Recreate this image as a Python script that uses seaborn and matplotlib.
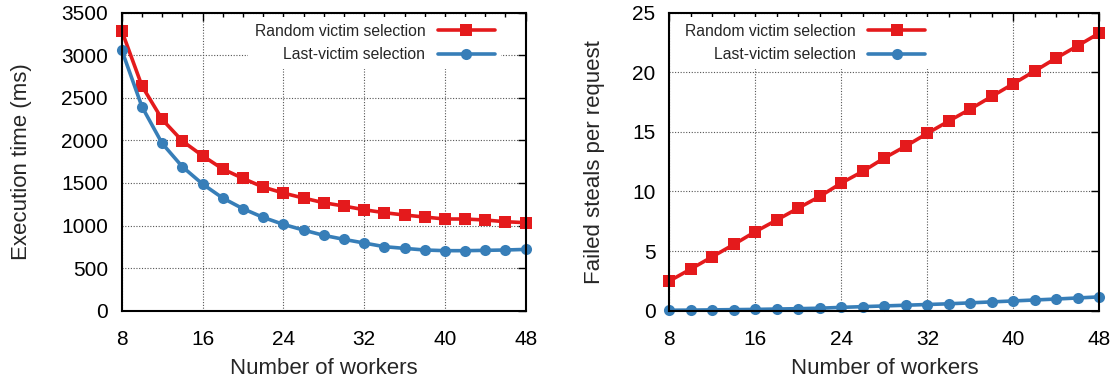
import numpy as np
import pandas as pd
import matplotlib
matplotlib.use("Agg")
import matplotlib.pyplot as plt
import seaborn as sns
from matplotlib.ticker import MultipleLocator

workers = [8, 10, 12, 14, 16, 18, 20, 22, 24, 26, 28, 30, 32, 34, 36, 38, 40, 42, 44, 46, 48]
exec_random = [3288, 2640, 2247, 1993, 1820, 1664, 1554, 1452, 1382, 1323, 1268, 1229,
               1186, 1151, 1124, 1100, 1077, 1077, 1065, 1045, 1034]
exec_last = [3061, 2396, 1965, 1691, 1488, 1323, 1198, 1096, 1014, 947, 885, 838,
             795, 752, 732, 713, 705, 705, 709, 713, 720]
fail_random = [2.49, 3.50, 4.53, 5.56, 6.63, 7.61, 8.61, 9.59, 10.71, 11.69, 12.81, 13.81,
               14.88, 15.91, 16.92, 17.98, 19.04, 20.11, 21.20, 22.23, 23.29]
fail_last = [0.04, 0.05, 0.07, 0.09, 0.11, 0.14, 0.17, 0.21, 0.28, 0.34, 0.40, 0.46,
             0.52, 0.58, 0.66, 0.74, 0.82, 0.90, 0.98, 1.07, 1.16]
series_names = ["Random victim selection", "Last-victim selection"]
x_label = "Number of workers"
y_labels = ["Execution time (ms)", "Failed steals per request"]

sns.set_theme(style="white")
plt.rcParams['font.family'] = ['Liberation Sans', 'DejaVu Sans']

RED = "#e41a1c"
BLUE = "#377eb8"

fig = plt.figure(figsize=(11.18, 3.81), dpi=100)
ax1 = fig.add_axes([0.1089, 0.1845, 0.3613, 0.7822])
ax2 = fig.add_axes([0.5987, 0.1845, 0.3846, 0.7822])

panels = [
    (ax1, exec_random, exec_last, (0, 3500), 500, (0.95, 1.0), -0.247),
    (ax2, fail_random, fail_last, (0, 25), 5, (0.62, 1.0), -0.175),
]

for i, (ax, r, l, ylim, ystep, anchor, ylx) in enumerate(panels):
    df = pd.DataFrame({"x": workers * 2,
                       "y": list(r) + list(l),
                       "s": [series_names[0]] * len(r) + [series_names[1]] * len(l)})
    sns.lineplot(data=df[df.s == series_names[0]], x="x", y="y", ax=ax, color=RED,
                 marker="s", markersize=8, markeredgewidth=0, linewidth=2.6,
                 label=series_names[0], clip_on=False, zorder=4)
    sns.lineplot(data=df[df.s == series_names[1]], x="x", y="y", ax=ax, color=BLUE,
                 marker="o", markersize=8, markeredgewidth=0, linewidth=2.6,
                 label=series_names[1], clip_on=False, zorder=4)
    ax.set_xlim(8, 48)
    ax.set_ylim(*ylim)
    ax.xaxis.set_major_locator(MultipleLocator(8))
    ax.xaxis.set_minor_locator(MultipleLocator(2))
    ax.yaxis.set_major_locator(MultipleLocator(ystep))
    ax.tick_params(which="both", direction="in", top=True, right=True, colors="black",
                   labelsize=15)
    ax.tick_params(which="major", length=6, width=1, pad=14)
    ax.tick_params(axis="y", which="major", pad=10)
    ax.tick_params(which="minor", length=3, width=1)
    ax.grid(True, which="major", linestyle=(0, (1, 1.5)), color="#555555", linewidth=0.8)
    for sp in ax.spines.values():
        sp.set_color("black")
        sp.set_linewidth(1.5)
        sp.set_zorder(5)
    ax.set_xlabel(x_label, fontsize=16)
    ax.set_ylabel(y_labels[i], fontsize=16)
    ax.xaxis.set_label_coords(0.5, -0.195)
    ax.xaxis.label.set_va("center")
    ax.yaxis.set_label_coords(ylx, 0.5)
    ax.yaxis.label.set_va("center")
    leg = ax.legend(loc="upper right", markerfirst=False, fontsize=11.3, frameon=True,
                    fancybox=False, framealpha=1, edgecolor="none", facecolor="white",
                    handlelength=3.6, borderaxespad=0.3, labelspacing=0.55,
                    bbox_to_anchor=anchor)
    leg.set_zorder(3)

fig.savefig("out.png", dpi=100)
